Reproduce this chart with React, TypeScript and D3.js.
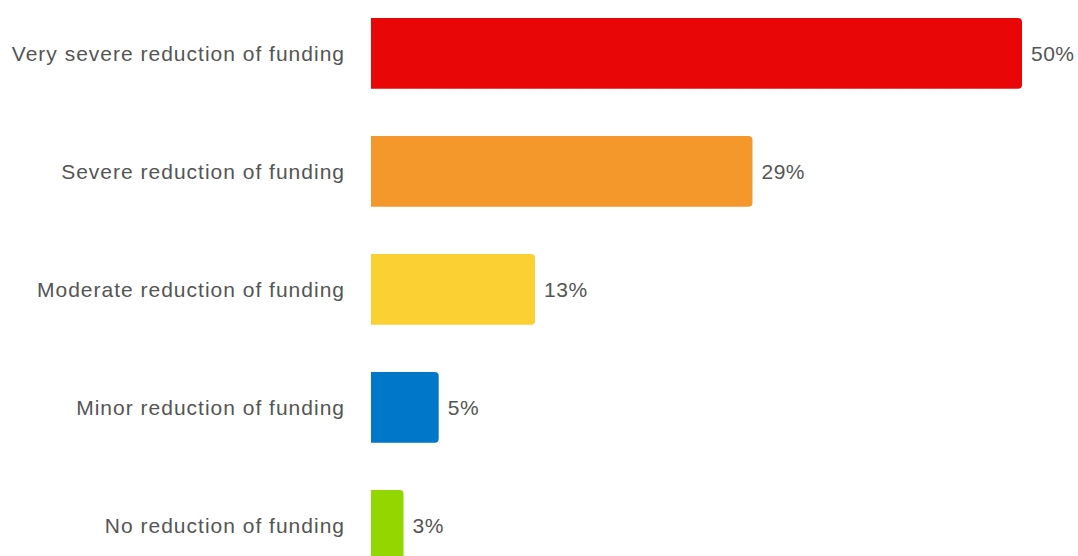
import React from 'react';
import * as d3 from 'd3';

const categories = [
  'Very severe reduction of funding',
  'Severe reduction of funding',
  'Moderate reduction of funding',
  'Minor reduction of funding',
  'No reduction of funding',
];
const shares = [50, 29.3, 12.6, 5.2, 2.5];
const colors = ['#e80606', '#f4982b', '#fbd033', '#0077c8', '#94d600'];

const width = 1078;
const height = 556;
const font = "'Liberation Sans', Arial, sans-serif";

// rounded on the right side only
function barPath(x0: number, x1: number, y0: number, h: number, r: number) {
  const rr = Math.min(r, (x1 - x0) / 2, h / 2);
  return `M${x0},${y0}H${x1 - rr}Q${x1},${y0} ${x1},${y0 + rr}V${y0 + h - rr}Q${x1},${y0 + h} ${x1 - rr},${y0 + h}H${x0}Z`;
}

const App: React.FC = () => {
  const x = d3.scaleLinear().domain([0, 50]).range([371, 1022]);
  const y = d3
    .scaleBand<string>()
    .domain(categories)
    .range([-5.6, 584.4])
    .paddingInner(0.4)
    .paddingOuter(0.2);

  return (
    <div style={{ position: 'fixed', left: 0, top: 0 }}>
      <svg width={width} height={height} style={{ display: 'block', background: '#fff' }}>
        {categories.map((c, i) => {
          const y0 = y(c) as number;
          const bw = y.bandwidth();
          const cy = y0 + bw / 2;
          return (
            <g key={c}>
              <text
                x={345}
                y={cy + 8}
                textAnchor="end"
                fontFamily={font}
                fontSize={21}
                letterSpacing={1}
                fill="#555"
              >
                {c}
              </text>
              <path d={barPath(x(0), x(shares[i]), y0, bw, 4)} fill={colors[i]} />
              <text
                x={x(shares[i]) + 9}
                y={cy + 8}
                fontFamily={font}
                fontSize={21}
                letterSpacing={0.5}
                fill="#555"
              >
                {Math.round(shares[i])}%
              </text>
            </g>
          );
        })}
      </svg>
    </div>
  );
};

export default App;
